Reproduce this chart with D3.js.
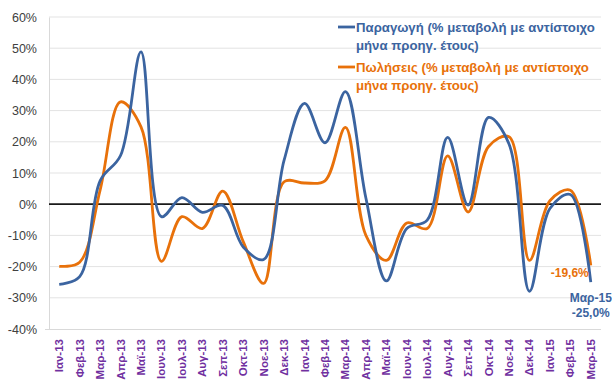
<!DOCTYPE html>
<html>
<head>
<meta charset="utf-8">
<script src="https://cdn.jsdelivr.net/npm/d3@7"></script>
<style>
  html, body { margin: 0; padding: 0; background: #fff; }
  svg { display: block; font-family: "Liberation Sans", Arial, sans-serif; }
</style>
</head>
<body>
<svg id="chart" width="612" height="380"></svg>
<script>
// Monthly categories
const months = ["Ιαν-13","Φεβ-13","Μαρ-13","Απρ-13","Μαϊ-13","Ιουν-13","Ιουλ-13","Αυγ-13","Σεπ-13","Οκτ-13","Νοε-13","Δεκ-13",
                "Ιαν-14","Φεβ-14","Μαρ-14","Απρ-14","Μαϊ-14","Ιουν-14","Ιουλ-14","Αυγ-14","Σεπ-14","Οκτ-14","Νοε-14","Δεκ-14",
                "Ιαν-15","Φεβ-15","Μαρ-15"];

// Year-on-year % change
const production = [-25.7,-23.2,7.5,15.6,48.8,-4.0,2.1,-2.6,-0.4,-13.7,-17.7,14.1,
                    32.3,19.7,36.1,2.0,-24.6,-7.8,-5.1,21.4,-0.3,27.8,19.3,-27.9,
                    -1.4,3.1,-25.0];
const sales = [-19.9,-18.6,4.5,32.8,24.8,-18.3,-4.0,-7.8,4.2,-12.0,-25.4,7.2,
               6.8,7.5,24.6,-10.0,-18.0,-6.0,-7.8,15.5,-2.5,18.5,21.6,-18.0,
               1.1,4.5,-19.6];

const yTicks = [-40,-30,-20,-10,0,10,20,30,40,50,60];

const legendLines = {
  production: ["Παραγωγή (% μεταβολή με αντίστοιχο", "μήνα προηγ. έτους)"],
  sales: ["Πωλήσεις (% μεταβολή με αντίστοιχο", "μήνα προηγ. έτους)"]
};

const BLUE = "#3b64a0";
const ORANGE = "#e8710a";
const PURPLE = "#7030a0";

// Plain hyphen minus and decimal comma, as in Greek-locale spreadsheets
const pct0 = v => String(v).replace("−", "-") + "%";
const pct1 = v => v.toFixed(1).replace(".", ",") + "%";

const svg = d3.select("#chart");
const plot = { left: 49, right: 601, top: 17, bottom: 329 };

const x = d3.scaleBand().domain(months).range([plot.left, plot.right]).paddingInner(0).paddingOuter(0);
const xc = d => x(d) + x.bandwidth() / 2;
const y = d3.scaleLinear().domain([-40, 60]).range([plot.bottom, plot.top]);

// Gridlines
svg.append("g")
  .selectAll("line")
  .data(yTicks.filter(t => t !== -40 && t !== 0))
  .join("line")
  .attr("x1", plot.left).attr("x2", plot.right)
  .attr("y1", d => y(d)).attr("y2", d => y(d))
  .attr("stroke", "#e3e3e3").attr("stroke-width", 1);

// Y axis
const yAxis = d3.axisLeft(y).tickValues(yTicks).tickSize(0).tickPadding(12)
  .tickFormat(pct0);
const gy = svg.append("g").attr("transform", `translate(${plot.left},0)`).call(yAxis);
gy.select(".domain").attr("stroke", "#d9d9d9");
gy.selectAll("text").attr("fill", "#404040").style("font-size", "12.5px");

// X axis
const xAxis = d3.axisBottom(x).tickSize(0).tickPadding(0);
const gx = svg.append("g").attr("transform", `translate(0,${plot.bottom})`).call(xAxis);
gx.select(".domain").attr("stroke", "#d9d9d9").attr("d", `M${plot.left - 4},0.5H${plot.right}`);
gx.selectAll("text")
  .attr("fill", PURPLE)
  .style("font-size", "11.5px")
  .style("font-weight", "bold")
  .attr("text-anchor", "end")
  .attr("dy", null)
  .attr("y", 0)
  .attr("transform", "translate(4,10) rotate(-90)");

// Zero line
svg.append("line")
  .attr("x1", plot.left).attr("x2", plot.right)
  .attr("y1", y(0)).attr("y2", y(0))
  .attr("stroke", "#1a1a1a").attr("stroke-width", 1.8);

// Series, smoothed
const line = d3.line()
  .x((d, i) => xc(months[i]))
  .y(d => y(d))
  .curve(d3.curveCatmullRom.alpha(0.5));

svg.append("path").datum(sales)
  .attr("d", line).attr("fill", "none")
  .attr("stroke", ORANGE).attr("stroke-width", 2.8).attr("stroke-linejoin", "round");
svg.append("path").datum(production)
  .attr("d", line).attr("fill", "none")
  .attr("stroke", BLUE).attr("stroke-width", 2.8).attr("stroke-linejoin", "round");

// Last-point labels
const last = months.length - 1;
const lx = xc(months[last]);
svg.append("text")
  .attr("x", lx - 2).attr("y", y(sales[last]) + 12)
  .attr("text-anchor", "end").attr("fill", ORANGE)
  .style("font-size", "12px").style("font-weight", "bold")
  .text(pct1(sales[last]));
svg.append("text")
  .attr("x", lx).attr("y", y(production[last]) + 20)
  .attr("text-anchor", "middle").attr("fill", BLUE)
  .style("font-size", "12px").style("font-weight", "bold")
  .text(months[last]);
svg.append("text")
  .attr("x", lx).attr("y", y(production[last]) + 35)
  .attr("text-anchor", "middle").attr("fill", BLUE)
  .style("font-size", "12px").style("font-weight", "bold")
  .text(pct1(production[last]));

// Legend
const legend = svg.append("g").attr("transform", "translate(338,0)");
[["production", BLUE, 27], ["sales", ORANGE, 67]].forEach(([key, color, ly]) => {
  legend.append("line")
    .attr("x1", 0).attr("x2", 17).attr("y1", ly).attr("y2", ly)
    .attr("stroke", color).attr("stroke-width", 2.8);
  legendLines[key].forEach((t, i) => {
    legend.append("text")
      .attr("x", 18).attr("y", ly + i * 18 + 5)
      .attr("fill", color)
      .style("font-size", "13.2px").style("font-weight", "bold")
      .text(t);
  });
});
</script>
</body>
</html>
